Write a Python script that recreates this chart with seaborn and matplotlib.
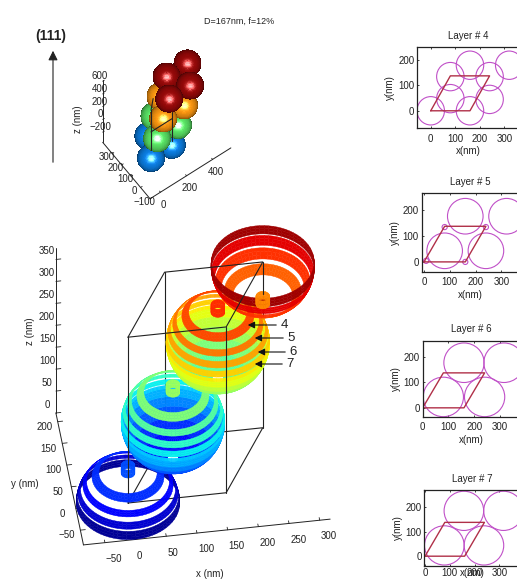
import numpy as np
import matplotlib
matplotlib.use('Agg')
import matplotlib.pyplot as plt
from matplotlib.patches import Circle
from mpl_toolkits.mplot3d import proj3d
from mpl_toolkits.mplot3d.art3d import Poly3DCollection
import seaborn as sns

# lattice cell and sphere stack (nm)
cell_x = [0, 160, 240, 80, 0]
cell_y = [0, 0, 138, 138, 0]
box_height = 378
stack_x = [0, 80, 160, 240]
stack_y = [0, 46, 92, 138]
stack_z = [0, 127, 252, 368]
radius = 83.5

# bands of each sphere, z relative to sphere centre
blue_bands = [(0, 17), (21, 33), (41, 50), (60, 69)]
full_bands = [(-83, -70), (-70, -54), (-54, -38), (-38, -22), (-22, -6), (-6, 1),
              (4, 16), (22, 33), (41, 50), (60, 69)]
red_bands = [(-9, 10), (-30, -12), (-50, -34), (-68, -56)]
sphere_bands = [blue_bands, full_bands, full_bands, red_bands]
cap_z = [(68, 76.5), (77.5, 86)]
cap_z_red = [(-86, -77.5), (-76.5, -68)]
cap_radius = 11
color_top = 380

# full stack, small 3D view
ball_x = [0, 160, 80, 80, 240, 160, 160, 320, 240, 240, 400, 320, 480]
ball_y = [0, 0, 138, 46, 46, 184, 92, 92, 230, 138, 138, 276, 276]
ball_z = [0, 0, 0, 127, 127, 127, 252, 252, 252, 378, 378, 378, 378]
ball_colors = ['#0a78d8', '#0a78d8', '#0a78d8', '#55d860', '#55d860', '#55d860',
               '#f09010', '#f09010', '#f09010', '#900808', '#900808', '#900808', '#900808']

# layer panels
layer_names = ['Layer # 4', 'Layer # 5', 'Layer # 6', 'Layer # 7']
layer_cx = [[0, 160, 80, 80, 160, 240, 240, 320],
            [80, 240, 160, 320, 8, 160, 80, 240],
            [80, 240, 160, 315],
            [78, 238, 157, 317]]
layer_cy = [[0, 0, 48, 135, 180, 135, 45, 180],
            [43, 43, 177, 177, 4, 0, 135, 135],
            [43, 43, 178, 178],
            [44, 44, 185, 185]]
layer_r = [[56, 56, 56, 56, 56, 56, 56, 56],
           [69, 69, 69, 69, 10, 10, 10, 10],
           [78, 78, 78, 78],
           [80, 80, 80, 80]]
layer_rect = [(417, 47, 103, 81), (421.7, 193, 98, 78.7), (422.7, 340.7, 97, 76), (424.3, 490, 96, 76)]
layer_xlim = [(-56, 364), (-9, 371), (0, 376), (-3, 385)]
layer_ylim = [(-68, 252), (-38, 267), (-35, 265), (-40, 270)]
layer_yt = [0, 100, 200]
layer_xt = [0, 100, 200, 300]

arrow_labels = ['4', '5', '6', '7']
arrow_tips = [(245, 325), (252, 338), (255, 352), (252, 364)]
arrow_ends = [(279, 325), (286, 338), (288, 352), (285, 364)]

W, H = 517, 580
sns.set_theme(style='white')
plt.rcParams['font.family'] = ['Liberation Sans', 'DejaVu Sans']
plt.rcParams['text.color'] = '#222222'
plt.rcParams['axes.labelcolor'] = '#222222'
plt.rcParams['xtick.color'] = '#222222'
plt.rcParams['ytick.color'] = '#222222'
jet = matplotlib.colormaps['jet']


def ring(cx, cy, cz, z0, z1, r=None, nt=72, nz=3):
    """quads of one band around a sphere (or a cylinder if r is given)"""
    zs = np.linspace(z0, z1, nz + 1)
    ts = np.linspace(0, 2 * np.pi, nt + 1)
    quads = []
    for a, b in zip(zs[:-1], zs[1:]):
        ra = r if r else np.sqrt(max(radius ** 2 - a ** 2, 0))
        rb = r if r else np.sqrt(max(radius ** 2 - b ** 2, 0))
        for t0, t1 in zip(ts[:-1], ts[1:]):
            quads.append([(cx + ra * np.cos(t0), cy + ra * np.sin(t0), cz + a),
                          (cx + ra * np.cos(t1), cy + ra * np.sin(t1), cz + a),
                          (cx + rb * np.cos(t1), cy + rb * np.sin(t1), cz + b),
                          (cx + rb * np.cos(t0), cy + rb * np.sin(t0), cz + b)])
    return quads


def place(ax, s, anchor, target, aspect, zoom=1.0):
    """set the scale (px/nm) of the 3D box and put anchor on target pixel"""
    def where():
        X, Y, _ = proj3d.proj_transform(*anchor, ax.get_proj())
        X2, Y2, _ = proj3d.proj_transform(anchor[0] + 100, anchor[1], anchor[2], ax.get_proj())
        a = ax.transData.transform((X, Y))
        b = ax.transData.transform((X2, Y2))
        return a, np.hypot(*(b - a)) / 100
    for _ in range(3):
        ax.set_box_aspect(aspect, zoom=zoom)
        ax.apply_aspect()
        a, cur = where()
        zoom *= s / cur
        ax.set_box_aspect(aspect, zoom=zoom)
        ax.apply_aspect()
        a, cur = where()
        pos = ax.get_position()
        dx = (target[0] - a[0]) / W
        dy = ((H - target[1]) - a[1]) / H
        ax.set_position([pos.x0 + dx, pos.y0 + dy, pos.width, pos.height])


def style3d(ax, size):
    for axis in (ax.xaxis, ax.yaxis, ax.zaxis):
        axis.set_pane_color((1, 1, 1, 0))
        axis.pane.set_edgecolor((1, 1, 1, 0))
        axis.line.set_color('#222222')
        axis.line.set_linewidth(0.7)
        axis._axinfo['tick']['inward_factor'] = 0.0
        axis._axinfo['tick']['outward_factor'] = 0.25
        axis._axinfo['tick']['linewidth'] = {True: 0.6, False: 0.6}
        axis._axinfo['tick']['color'] = '#222222'
    ax.grid(False)
    ax.patch.set_alpha(0)
    ax.tick_params(labelsize=size, pad=0)


fig = plt.figure(figsize=(W / 100, H / 100), dpi=100)

# ---- big 3D view
ax = fig.add_axes([0.0, 0.0, 0.95, 0.95 * W / H], projection='3d', proj_type='ortho', computed_zorder=False)
ax.view_init(elev=45, azim=-98.4)
xr, yr, zr = (-85, 317), (-84, 220), (0, 375)
ax.set_xlim(xr)
ax.set_ylim(yr)
ax.set_zlim(zr)
style3d(ax, 7)
ax.set_xticks([-50, 0, 50, 100, 150, 200, 250, 300])
ax.set_yticks([-50, 0, 50, 100, 150, 200])
ax.set_zticks([0, 50, 100, 150, 200, 250, 300, 350])
ax.tick_params(axis='x', pad=-1)
ax.tick_params(axis='z', pad=-2)
ax.tick_params(axis='y', pad=2)
for lab in ax.get_xticklabels():
    lab.set_ha('left')
for lab in ax.get_yticklabels() + ax.get_zticklabels():
    lab.set_va('bottom')

faces, cols, cap_faces, cap_cols = [], [], [], []
for i, bands in enumerate(sphere_bands):
    for z0, z1 in bands:
        q = ring(stack_x[i], stack_y[i], stack_z[i], z0, z1)
        faces += q
        cols += [jet((stack_z[i] + (z0 + z1) / 2) / color_top)] * len(q)
    caps = cap_z_red if i == 3 else cap_z
    cap_color = jet((stack_z[i] + (caps[0][0] + caps[1][1]) / 2) / color_top)
    for z0, z1 in caps:
        q = ring(stack_x[i], stack_y[i], stack_z[i], z0, z1, r=cap_radius, nt=24, nz=1)
        cap_faces += q
        cap_cols += [cap_color] * len(q)
ax.add_collection3d(Poly3DCollection(faces, facecolors=cols, edgecolors=cols, linewidths=0.3, zorder=2))
ax.add_collection3d(Poly3DCollection(cap_faces, facecolors=cap_cols, edgecolors=cap_cols, linewidths=0.4, zorder=2.5))

# box edges behind the spheres, then in front
bx, by = cell_x[:4], cell_y[:4]
ax.plot(cell_x, cell_y, [0] * 5, color='#222222', lw=0.8, zorder=1)
ax.plot([bx[2], bx[2]], [by[2], by[2]], [0, 305], color='#222222', lw=0.8, zorder=1)
ax.plot([bx[3], bx[3]], [by[3], by[3]], [0, box_height], color='#222222', lw=0.8, zorder=1)
ax.plot([0, 0], [0, 0], [0, 22], color='#222222', lw=0.8, zorder=1)
ax.plot(cell_x, cell_y, [box_height] * 5, color='#222222', lw=0.8, zorder=3)
ax.plot([0, 0], [0, 0], [22, box_height], color='#222222', lw=0.8, zorder=3)
ax.plot([bx[1], bx[1]], [by[1], by[1]], [0, box_height], color='#222222', lw=0.8, zorder=3)
ax.plot([bx[2], bx[2]], [by[2], by[2]], [305, box_height], color='#222222', lw=0.8, zorder=3)

aspect = (xr[1] - xr[0], yr[1] - yr[0], zr[1] - zr[0])
place(ax, 0.617, (0, 0, 0), (128, 503), aspect)

# ---- small 3D view
ax2 = fig.add_axes([0.0, 0.45, 0.5, 0.5 * W / H], projection='3d', proj_type='ortho', computed_zorder=False)
e2, a2 = 60, -126
ax2.view_init(elev=e2, azim=a2)
xr2, yr2, zr2 = (-80, 540), (-100, 400), (-360, 620)
ax2.set_xlim(xr2)
ax2.set_ylim(yr2)
ax2.set_zlim(zr2)
style3d(ax2, 7)
ax2.set_xticks([0, 200, 400])
ax2.set_yticks([-100, 0, 100, 200, 300])
ax2.set_zticks([-200, 0, 200, 400, 600])
ax2.tick_params(axis='x', pad=-2)
ax2.tick_params(axis='y', pad=-1)
ax2.tick_params(axis='z', pad=-6)
for lab in ax2.get_yticklabels() + ax2.get_zticklabels():
    lab.set_va('bottom')

view = np.array([np.cos(np.radians(e2)) * np.cos(np.radians(a2)),
                 np.cos(np.radians(e2)) * np.sin(np.radians(a2)),
                 np.sin(np.radians(e2))])
theta, phi = np.meshgrid(np.linspace(0, 2 * np.pi, 61), np.linspace(0, np.pi, 37))
order = np.argsort([np.dot(view, (x, y, 0.79 * z)) for x, y, z in zip(ball_x, ball_y, ball_z)])
for n, i in enumerate(order):
    nx = np.cos(theta) * np.sin(phi)
    ny = np.sin(theta) * np.sin(phi)
    nz = np.cos(phi)
    lam = np.clip(nx * view[0] + ny * view[1] + nz * view[2], 0, 1)
    base = np.array(matplotlib.colors.to_rgb(ball_colors[i]))
    shade = np.clip(base[None, None, :] * (0.4 + 0.7 * lam[..., None]) + (lam[..., None] ** 40) * 0.75, 0, 1)
    ax2.plot_surface(ball_x[i] + radius * nx, ball_y[i] + radius * ny, ball_z[i] + radius / 0.79 * nz,
                     facecolors=shade[:-1, :-1], shade=False, rstride=1, cstride=1,
                     linewidth=0, antialiased=False, zorder=2 + n)
for lx, ly, lz in (([0, 0], [0, 0], [130, 750]), ([160, 160], [0, 0], [55, 515]),
                   ([0, 160], [0, 0], [410, 410]), ([0, 60], [0, 60], [750, 750])):
    ax2.plot(lx, ly, lz, color='#222222', lw=0.8, zorder=40)
aspect2 = (xr2[1] - xr2[0], yr2[1] - yr2[0], (zr2[1] - zr2[0]) * 0.79)
place(ax2, 0.154, (0, 0, 0), (151, 158), aspect2)

# ---- layer panels
for k, name in enumerate(layer_names):
    l, t, w, h = layer_rect[k]
    a = fig.add_axes([l / W, 1 - (t + h) / H, w / W, h / H])
    sns.lineplot(x=cell_x, y=cell_y, sort=False, estimator=None, color='#b03048', lw=1.0, ax=a)
    for cx, cy, r in zip(layer_cx[k], layer_cy[k], layer_r[k]):
        a.add_patch(Circle((cx, cy), r, fill=False, ec='#c050c8', lw=0.8))
    a.set_xlim(layer_xlim[k])
    a.set_ylim(layer_ylim[k])
    a.set_xticks(layer_xt)
    a.set_yticks(layer_yt)
    a.tick_params(labelsize=7, length=1.5, width=0.6, direction='in', pad=2, bottom=True, left=True, top=True)
    a.tick_params(axis='x', pad=1.5 if k == 3 else 4)
    for sp in a.spines.values():
        sp.set_color('#222222')
        sp.set_linewidth(0.9)
    a.set_title(name, fontsize=7, pad=6)
    a.set_xlabel('x(nm)', fontsize=7, labelpad=-7 if k == 3 else 2)
    a.set_ylabel('y(nm)', fontsize=7, labelpad=2)

# ---- overlay in pixel units for annotations
ov = fig.add_axes([0, 0, 1, 1])
ov.set_xlim(0, W)
ov.set_ylim(H, 0)
ov.axis('off')
ov.patch.set_alpha(0)
ov.text(239, 21, 'D=167nm, f=12%', ha='center', va='center', fontsize=6.5)
ov.text(51, 36, '(111)', ha='center', va='center', fontsize=10, fontweight='bold')
ov.annotate('', xy=(53, 48), xytext=(53, 165),
            arrowprops=dict(arrowstyle='-|>', color='#222222', lw=0.8, mutation_scale=14))
for lab, tip, end in zip(arrow_labels, arrow_tips, arrow_ends):
    ov.annotate('', xy=tip, xytext=end,
                arrowprops=dict(arrowstyle='-|>', color='#111111', lw=0.8, mutation_scale=10))
    ov.text(end[0] + 5, end[1], lab, ha='center', va='center', fontsize=9.5)
ov.text(210, 574, 'x (nm)', ha='center', va='center', fontsize=7)
ov.text(25, 484, 'y (nm)', ha='center', va='center', fontsize=7)
ov.text(30, 331, 'z (nm)', ha='center', va='center', fontsize=7, rotation=90)
ov.text(78, 119, 'z (nm)', ha='center', va='center', fontsize=7, rotation=90)

fig.savefig('out.png', dpi=100, facecolor='white')
